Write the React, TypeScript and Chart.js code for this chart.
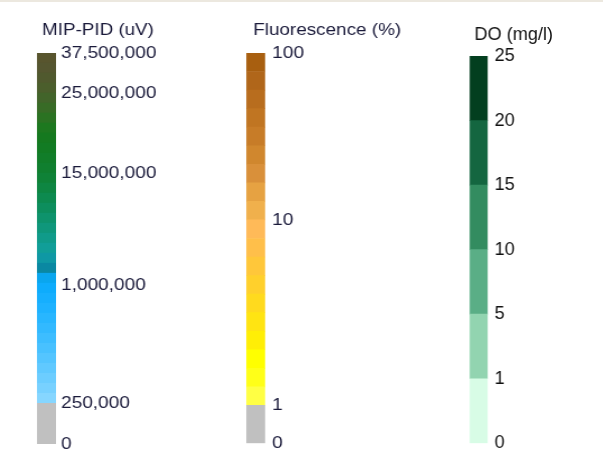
import React, { useEffect, useRef } from 'react';
import { Chart, registerables } from 'chart.js';

Chart.register(...registerables);

// ---------- MIP-PID ----------
const MIP_TITLE = 'MIP-PID (uV)';
const MIP_TICKS = [0, 250000, 1000000, 15000000, 25000000, 37500000];
const MIP_TICK_POS = [0, 10.4, 40.7, 69.2, 89.6, 100];
const MIP_NODATA = '#c0c0c0';
// colour steps, top to bottom
const MIP_COLORS = [
  '#58552e', '#555630', '#50592e', '#4b5e2c', '#42642a', '#386b26', '#2b7222',
  '#1d781f', '#15791f', '#127b23', '#117d29', '#107f2f', '#0f8237', '#0e8642',
  '#0d8a4f', '#0d8e5d', '#0e936c', '#0f977b', '#109b8a', '#119e98', '#0f98a4',
  '#0a88a2', '#0aa6ee', '#0eacfc', '#16affe', '#1eb2ff', '#28b6ff', '#32b9ff',
  '#3dbdff', '#48c1ff', '#54c5ff', '#60c9ff', '#6ccdff', '#78d1ff', '#86d6ff',
];

// ---------- Fluorescence ----------
const FLUOR_TITLE = 'Fluorescence (%)';
const FLUOR_TICKS = [0, 1, 10, 100];
const FLUOR_TICK_POS = [0, 9.7, 57.2, 100];
const FLUOR_NODATA = '#c0c0c0';
// colour steps, top to bottom
const FLUOR_COLORS = [
  '#a85f10', '#b0661a', '#b86d1e', '#c07522', '#c77c28', '#d0872e', '#d9903a',
  '#e6a242', '#f0b04c', '#ffba58', '#ffbf4a', '#ffc73a', '#ffd02c', '#ffda1e',
  '#ffe412', '#ffee06', '#ffff00', '#ffff18', '#ffff44',
];

// ---------- DO ----------
const DO_TITLE = 'DO (mg/l)';
const DO_TICKS = [0, 1, 5, 10, 15, 20, 25];
const DO_TICK_POS = [0, 1, 2, 3, 4, 5, 6];
// class colours, bottom to top
const DO_COLORS = ['#d8fce6', '#92d4b0', '#5aae86', '#338c60', '#146640', '#033f1f'];

const FONT = "'Liberation Sans', Arial, Helvetica, sans-serif";

type Spec = {
  title: string;
  tickValues: number[];
  tickPos: number[];
  bandSizes: number[];
  bandColors: string[];
  max: number;
  left: number;
  width: number;
  scaleX: number;
  padLeft: number;
  axisWidth: number;
  tickPad: number;
  padBottom: number;
  titleSize: number;
  titlePadTop: number;
  titlePadBottom: number;
  tickSize: number;
  textColor: string;
};

function gradientBands(tickPos: number[], colorsTopDown: string[], noData: string) {
  const gray = tickPos[1];
  const n = colorsTopDown.length;
  const step = (100 - gray) / n;
  const sizes = [gray];
  const colors = [noData];
  const bottomUp = colorsTopDown.slice().reverse();
  for (let i = 0; i < n; i++) {
    sizes.push(step);
    colors.push(bottomUp[i]);
  }
  return { sizes, colors };
}

const mipBands = gradientBands(MIP_TICK_POS, MIP_COLORS, MIP_NODATA);
const fluorBands = gradientBands(FLUOR_TICK_POS, FLUOR_COLORS, FLUOR_NODATA);

const SX = 1.12;

const SPECS: Spec[] = [
  {
    title: MIP_TITLE,
    tickValues: MIP_TICKS,
    tickPos: MIP_TICK_POS,
    bandSizes: mipBands.sizes,
    bandColors: mipBands.colors,
    max: 100,
    left: 0,
    width: 142,
    scaleX: SX,
    padLeft: 33.0,
    axisWidth: 142 - 50.0,
    tickPad: 4.5,
    padBottom: 476 - 444,
    titleSize: 16.8,
    titlePadTop: 20.4,
    titlePadBottom: 12.4,
    tickSize: 17,
    textColor: '#1a1a3a',
  },
  {
    title: FLUOR_TITLE,
    tickValues: FLUOR_TICKS,
    tickPos: FLUOR_TICK_POS,
    bandSizes: fluorBands.sizes,
    bandColors: fluorBands.colors,
    max: 100,
    left: 200,
    width: 184.7,
    scaleX: SX,
    padLeft: 41.1,
    axisWidth: 184.7 - 57.8,
    tickPad: 6.2,
    padBottom: 476 - 443.3,
    titleSize: 16.8,
    titlePadTop: 20.7,
    titlePadBottom: 12.1,
    tickSize: 17,
    textColor: '#1a1a3a',
  },
  {
    title: DO_TITLE,
    tickValues: DO_TICKS,
    tickPos: DO_TICK_POS,
    bandSizes: DO_TICK_POS.slice(1).map((p, i) => p - DO_TICK_POS[i]),
    bandColors: DO_COLORS,
    max: 6,
    left: 420,
    width: 136.7,
    scaleX: 1,
    padLeft: 49.3,
    axisWidth: 136.7 - 67.3,
    tickPad: 6.7,
    padBottom: 476 - 443.3,
    titleSize: 18,
    titlePadTop: 24.7,
    titlePadBottom: 9.7,
    tickSize: 18,
    textColor: '#111111',
  },
];

function LegendChart({ spec }: { spec: Spec }) {
  const ref = useRef<HTMLCanvasElement | null>(null);
  useEffect(() => {
    if (!ref.current) return;
    const chart = new Chart(ref.current, {
      type: 'bar',
      data: {
        labels: [spec.title],
        datasets: spec.bandSizes.map((v, i) => ({
          data: [v],
          backgroundColor: spec.bandColors[i],
          borderWidth: 0,
          barPercentage: 1,
          categoryPercentage: 1,
        })),
      },
      options: {
        animation: false,
        responsive: true,
        maintainAspectRatio: false,
        events: [],
        layout: { padding: { left: spec.padLeft, right: 0, top: 0, bottom: spec.padBottom } },
        plugins: {
          legend: { display: false },
          tooltip: { enabled: false },
          title: {
            display: true,
            text: spec.title,
            color: spec.textColor,
            align: 'center',
            font: { family: FONT, size: spec.titleSize, weight: 'normal' },
            padding: { top: spec.titlePadTop, bottom: spec.titlePadBottom },
          },
        },
        scales: {
          x: { display: false, stacked: true },
          y: {
            stacked: true,
            position: 'right',
            min: 0,
            max: spec.max,
            grid: { display: false, drawTicks: false },
            border: { display: false },
            afterBuildTicks: (axis: any) => {
              axis.ticks = spec.tickPos.map((v) => ({ value: v }));
            },
            afterFit: (axis: any) => {
              axis.width = spec.axisWidth;
            },
            ticks: {
              autoSkip: false,
              padding: spec.tickPad,
              color: spec.textColor,
              font: { family: FONT, size: spec.tickSize },
              callback: (_v: any, i: number) => spec.tickValues[i].toLocaleString('en-US'),
            },
          },
        },
      } as any,
    });
    return () => chart.destroy();
  }, [spec]);

  return (
    <div
      style={{
        position: 'absolute',
        left: spec.left,
        top: 0,
        width: spec.width,
        height: 476,
        transform: `scaleX(${spec.scaleX})`,
        transformOrigin: '0 0',
      }}
    >
      <canvas ref={ref} />
    </div>
  );
}

export default function App() {
  return (
    <div
      style={{
        position: 'fixed',
        left: 0,
        top: 0,
        width: 603,
        height: 476,
        background: '#ffffff',
        overflow: 'hidden',
      }}
    >
      <div style={{ position: 'absolute', left: 0, top: 0, width: 603, height: 2, background: '#ece8df' }} />
      {SPECS.map((s) => (
        <LegendChart key={s.title} spec={s} />
      ))}
    </div>
  );
}
